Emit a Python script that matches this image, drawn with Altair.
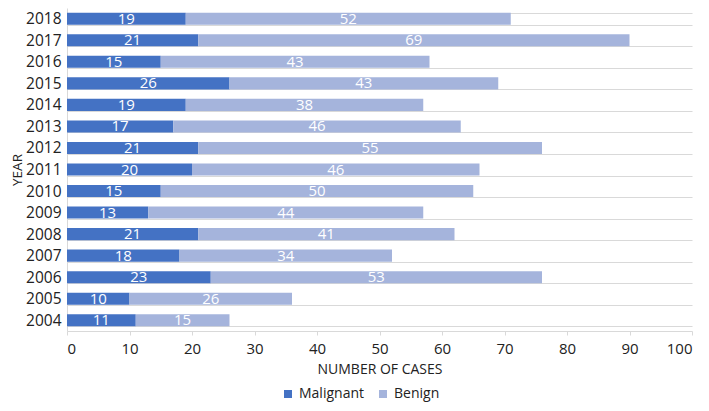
import altair as alt
import pandas as pd

years = [2004, 2005, 2006, 2007, 2008, 2009, 2010, 2011, 2012, 2013, 2014, 2015, 2016, 2017, 2018]
malignant = [11, 10, 23, 18, 21, 13, 15, 20, 21, 17, 19, 26, 15, 21, 19]
benign = [15, 26, 53, 34, 41, 44, 50, 46, 55, 46, 38, 43, 43, 69, 52]
series = ["Malignant", "Benign"]
colors = ["#4472C4", "#A5B4DC"]
x_ticks = list(range(0, 101, 10))

rows = []
for y, m, b in zip(years, malignant, benign):
    rows.append({"year": str(y), "series": "Malignant", "value": m, "order": 0})
    rows.append({"year": str(y), "series": "Benign", "value": b, "order": 1})
df = pd.DataFrame(rows)

FONT = "Open Sans"
TXT = "#222222"

base = alt.Chart(df).transform_stack(
    stack="value", as_=["v0", "v1"], groupby=["year"], sort=[{"field": "order", "order": "ascending"}]
).transform_calculate(mid="(datum.v0 + datum.v1) / 2")

yenc = alt.Y("year:O", sort="descending", title="YEAR",
             scale=alt.Scale(paddingInner=0.44, paddingOuter=0.22),
             axis=alt.Axis(grid=True, gridColor="#D9D9D9", tickBand="extent", ticks=False,
                           domainColor="#D9D9D9", labelPadding=6, labelFontSize=15.5,
                           labelColor=TXT, titleFontSize=13.5, titleFontWeight="normal",
                           titleColor=TXT, titlePadding=1))

bars = base.mark_bar().encode(
    x=alt.X("v0:Q", scale=alt.Scale(domain=[0, 100]), title="NUMBER OF CASES",
            axis=alt.Axis(values=x_ticks, grid=False, domainColor="#D9D9D9", tickColor="#D9D9D9",
                          tickSize=4, labelPadding=6, labelFontSize=15, labelColor=TXT,
                          titleFontSize=14, titleFontWeight="normal", titleColor=TXT,
                          titlePadding=6)),
    x2="v1:Q",
    y=yenc,
    color=alt.Color("series:N", scale=alt.Scale(domain=series, range=colors),
                    legend=alt.Legend(title=None, orient="none", direction="horizontal",
                                      legendX=214, legendY=379, symbolType="square",
                                      symbolSize=64, symbolStrokeWidth=0, labelFontSize=14,
                                      labelColor=TXT, columnPadding=12, padding=0)),
)

labels = base.mark_text(color="white", fontSize=15, font=FONT, baseline="middle").encode(
    x="mid:Q",
    y=alt.Y("year:O", sort="descending"),
    text="value:Q",
)

chart = (bars + labels).properties(
    width=625, height=323,
    autosize=alt.AutoSizeParams(type="none"),
    padding={"left": 59, "top": 0, "right": 9, "bottom": 72},
).configure(font=FONT).configure_view(stroke=None)

chart.save("out.html", embed_options={"renderer": "svg", "actions": False})
